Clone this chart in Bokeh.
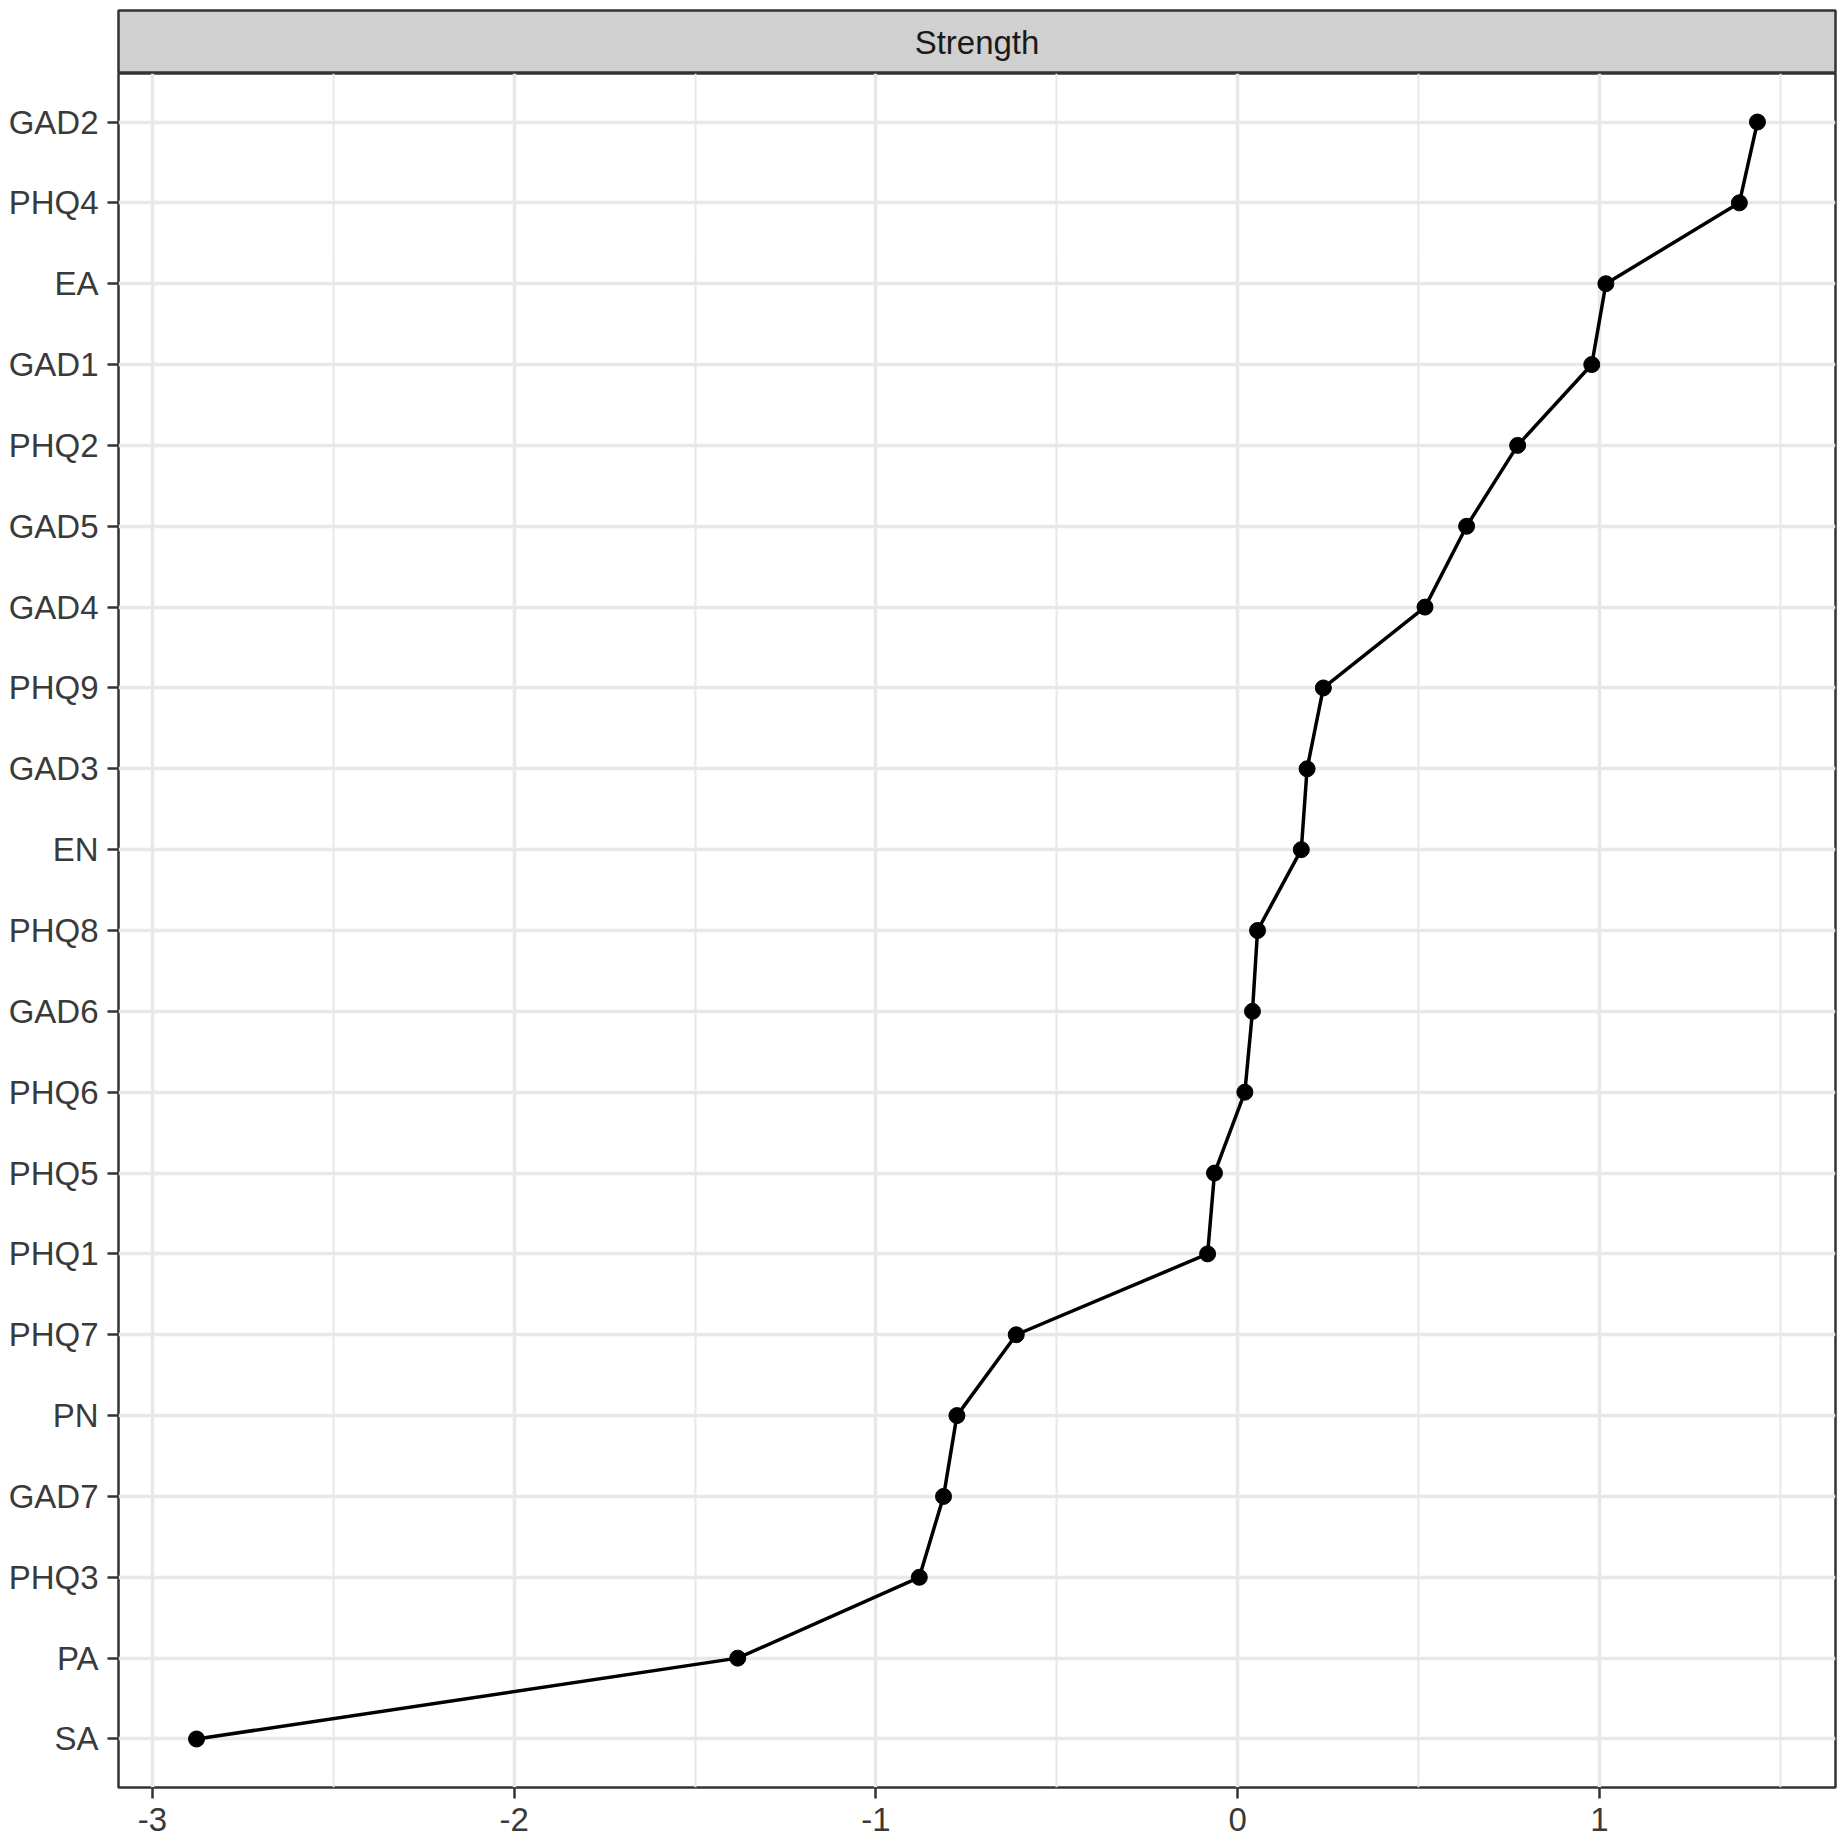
from bokeh.plotting import figure
from bokeh.layouts import column
from bokeh.models import FixedTicker, Range1d
from bokeh.core.properties import value
from bokeh.embed import file_html
from bokeh.resources import INLINE

panel_title = "Strength"

# nodes from top to bottom
nodes = ["GAD2", "PHQ4", "EA", "GAD1", "PHQ2", "GAD5", "GAD4", "PHQ9", "GAD3", "EN",
         "PHQ8", "GAD6", "PHQ6", "PHQ5", "PHQ1", "PHQ7", "PN", "GAD7", "PHQ3", "PA", "SA"]
strength = [1.437, 1.387, 1.018, 0.979, 0.774, 0.633, 0.518, 0.237, 0.192, 0.176,
            0.055, 0.041, 0.020, -0.064, -0.083, -0.612, -0.776, -0.813, -0.880, -1.382, -2.878]

x_ticks = [-3, -2, -1, 0, 1]
x_tick_labels = ["-3", "-2", "-1", "0", "1"]
x_minor = [-2.5, -1.5, -0.5, 0.5, 1.5]

FONT = value("Liberation Sans")
n = len(nodes)
ypos = [n - i for i in range(n)]

lo, hi = min(strength), max(strength)
pad = 0.05 * (hi - lo)

LEFT = 118
FW = 1717
RIGHT = 8

# ---- strip (facet label) ----
strip = figure(frame_width=FW, frame_height=63, x_range=(0, 1), y_range=(0, 1),
               toolbar_location=None, output_backend="svg",
               x_axis_location=None, y_axis_location=None,
               min_border_left=LEFT, min_border_right=RIGHT,
               min_border_top=10, min_border_bottom=0)
strip.grid.visible = False
strip.background_fill_color = "#D0D0D0"
strip.border_fill_color = "white"
strip.outline_line_color = "#333333"
strip.outline_line_width = 2.5
strip.text(x=[0.5], y=[0.5], text=[panel_title], text_align="center",
           text_baseline="middle", text_font=FONT, text_font_size="33px",
           text_color="#1A1A1A")

# ---- main panel ----
p = figure(frame_width=FW, frame_height=1714,
           x_range=Range1d(lo - pad, hi + pad), y_range=Range1d(0.4, n + 0.6),
           toolbar_location=None, output_backend="svg",
           min_border_left=LEFT, min_border_right=RIGHT,
           min_border_top=0, min_border_bottom=52)
p.background_fill_color = "white"
p.border_fill_color = "white"
p.outline_line_color = "#333333"
p.outline_line_width = 2.5

p.xaxis.ticker = FixedTicker(ticks=x_ticks, minor_ticks=x_minor)
p.xaxis.major_label_overrides = {t: lab for t, lab in zip(x_ticks, x_tick_labels)}
p.yaxis.ticker = FixedTicker(ticks=ypos)
p.yaxis.major_label_overrides = {y: lab for y, lab in zip(ypos, nodes)}

for ax in (p.xaxis, p.yaxis):
    ax.axis_line_color = None
    ax.major_tick_line_color = "#333333"
    ax.major_tick_line_width = 2.5
    ax.major_tick_out = 11
    ax.major_tick_in = 0
    ax.minor_tick_line_color = None
    ax.major_label_text_font = "Liberation Sans"
    ax.major_label_text_font_size = "33px"
    ax.major_label_text_color = "#3A3A3A"
p.yaxis.major_label_standoff = 9
p.xaxis.major_label_standoff = 9

p.xgrid.grid_line_color = "#E8E8E8"
p.xgrid.grid_line_width = 3.5
p.xgrid.minor_grid_line_color = "#E8E8E8"
p.xgrid.minor_grid_line_width = 2
p.ygrid.grid_line_color = "#E8E8E8"
p.ygrid.grid_line_width = 3.5

p.line(strength, ypos, line_color="black", line_width=3.5)
p.scatter(strength, ypos, size=16, fill_color="black", line_color="black")

layout = column(strip, p, spacing=0)
open("out.html", "w").write(file_html(layout, INLINE))
